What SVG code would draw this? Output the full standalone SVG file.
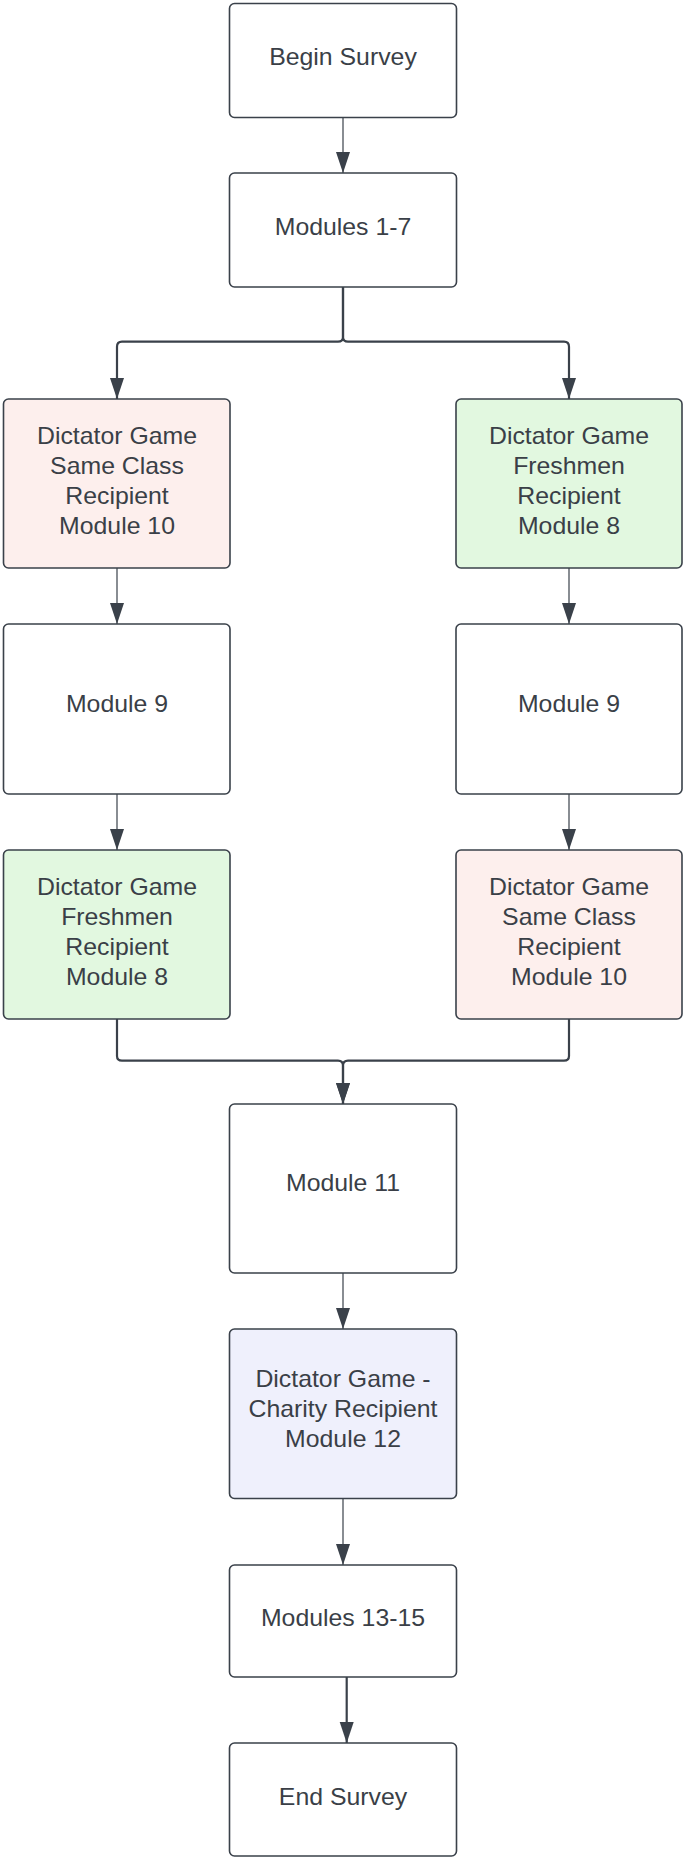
<svg xmlns="http://www.w3.org/2000/svg" width="685" height="1861" viewBox="0 0 685 1861">
<defs>
<style>
.box{stroke:#3a414a;stroke-width:1.6;fill:#ffffff}
.pink{fill:#fdefed}
.green{fill:#e2f8e0}
.lav{fill:#eff0fc}
.t{font-family:"Liberation Sans",Arial,sans-serif;font-size:23px;fill:#3a3f47;text-anchor:middle}
.thin{stroke:#3a414a;stroke-width:1.2;fill:none;marker-end:url(#ah)}
.thick{stroke:#3a414a;stroke-width:2.2;fill:none;marker-end:url(#ah)}
</style>
<marker id="ah" markerUnits="userSpaceOnUse" viewBox="0 -8 22 16" refX="21" refY="0" markerWidth="22" markerHeight="16" orient="auto">
<path d="M0,-7 L21,0 L0,7 z" fill="#3a414a"/>
</marker>
</defs>
<rect width="685" height="1861" fill="#ffffff"/>
<g id="connectors">
<path class="thin" d="M343,117.5 V173"/>
<path class="thick" d="M343,287 V337 Q343,341.7 338,341.7 H122 Q117,341.7 117,346.7 V399"/>
<path class="thick" d="M343,287 V337 Q343,341.7 348,341.7 H564 Q569,341.7 569,346.7 V399"/>
<path class="thin" d="M117,568 V624"/>
<path class="thin" d="M569,568 V624"/>
<path class="thin" d="M117,794 V850"/>
<path class="thin" d="M569,794 V850"/>
<path class="thick" d="M117,1019 V1056 Q117,1060.7 122,1060.7 H338 Q343,1060.7 343,1065.7 V1104"/>
<path class="thick" d="M569,1019 V1056 Q569,1060.7 564,1060.7 H348 Q343,1060.7 343,1065.7 V1104"/>
<path class="thin" d="M343,1273 V1329"/>
<path class="thin" d="M343,1498.5 V1565"/>
<path class="thick" d="M346.7,1677 V1743"/>
</g>
<g id="begin">
<rect class="box" x="229.5" y="3.5" width="227" height="114" rx="5"/>
<text class="t" transform="translate(343,65) scale(1.08,1)">Begin Survey</text>
</g>
<g id="modules1-7">
<rect class="box" x="229.5" y="173" width="227" height="114" rx="5"/>
<text class="t" transform="translate(343,235) scale(1.08,1)">Modules 1-7</text>
</g>
<g id="left-dg-sameclass">
<rect class="box pink" x="3.5" y="399" width="226.5" height="169" rx="5"/>
<text class="t" transform="translate(117,444) scale(1.08,1)">Dictator Game</text>
<text class="t" transform="translate(117,474) scale(1.08,1)">Same Class</text>
<text class="t" transform="translate(117,504) scale(1.08,1)">Recipient</text>
<text class="t" transform="translate(117,534) scale(1.08,1)">Module 10</text>
</g>
<g id="right-dg-freshmen">
<rect class="box green" x="456" y="399" width="226" height="169" rx="5"/>
<text class="t" transform="translate(569,444) scale(1.08,1)">Dictator Game</text>
<text class="t" transform="translate(569,474) scale(1.08,1)">Freshmen</text>
<text class="t" transform="translate(569,504) scale(1.08,1)">Recipient</text>
<text class="t" transform="translate(569,534) scale(1.08,1)">Module 8</text>
</g>
<g id="left-module9">
<rect class="box" x="3.5" y="624" width="226.5" height="170" rx="5"/>
<text class="t" transform="translate(117,712) scale(1.08,1)">Module 9</text>
</g>
<g id="right-module9">
<rect class="box" x="456" y="624" width="226" height="170" rx="5"/>
<text class="t" transform="translate(569,712) scale(1.08,1)">Module 9</text>
</g>
<g id="left-dg-freshmen">
<rect class="box green" x="3.5" y="850" width="226.5" height="169" rx="5"/>
<text class="t" transform="translate(117,895) scale(1.08,1)">Dictator Game</text>
<text class="t" transform="translate(117,925) scale(1.08,1)">Freshmen</text>
<text class="t" transform="translate(117,955) scale(1.08,1)">Recipient</text>
<text class="t" transform="translate(117,985) scale(1.08,1)">Module 8</text>
</g>
<g id="right-dg-sameclass">
<rect class="box pink" x="456" y="850" width="226" height="169" rx="5"/>
<text class="t" transform="translate(569,895) scale(1.08,1)">Dictator Game</text>
<text class="t" transform="translate(569,925) scale(1.08,1)">Same Class</text>
<text class="t" transform="translate(569,955) scale(1.08,1)">Recipient</text>
<text class="t" transform="translate(569,985) scale(1.08,1)">Module 10</text>
</g>
<g id="module11">
<rect class="box" x="229.5" y="1104" width="227" height="169" rx="5"/>
<text class="t" transform="translate(343,1191) scale(1.08,1)">Module 11</text>
</g>
<g id="module12">
<rect class="box lav" x="229.5" y="1329" width="227" height="169.5" rx="5"/>
<text class="t" transform="translate(343,1387) scale(1.08,1)">Dictator Game -</text>
<text class="t" transform="translate(343,1417) scale(1.08,1)">Charity Recipient</text>
<text class="t" transform="translate(343,1447) scale(1.08,1)">Module 12</text>
</g>
<g id="modules13-15">
<rect class="box" x="229.5" y="1565" width="227" height="112" rx="5"/>
<text class="t" transform="translate(343,1626) scale(1.08,1)">Modules 13-15</text>
</g>
<g id="end">
<rect class="box" x="229.5" y="1743" width="227" height="113" rx="5"/>
<text class="t" transform="translate(343,1805) scale(1.08,1)">End Survey</text>
</g>
</svg>
